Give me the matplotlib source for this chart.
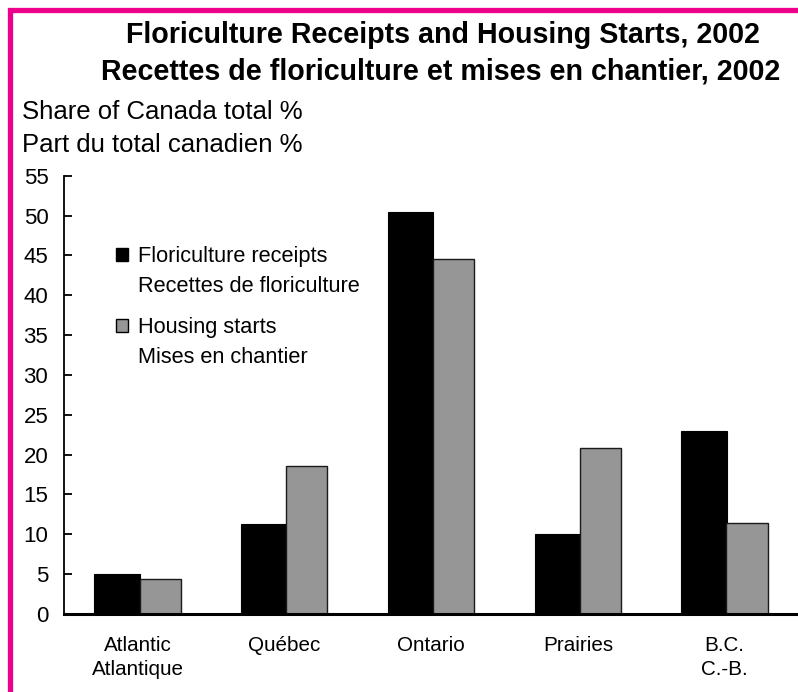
import numpy as np
import matplotlib
matplotlib.use('Agg')
import matplotlib.pyplot as plt
from matplotlib.patches import Patch, Rectangle

categories = ["Atlantic\nAtlantique", "Québec", "Ontario", "Prairies", "B.C.\nC.-B."]
floriculture = [5.0, 11.3, 50.5, 10.0, 23.0]
housing = [4.4, 18.6, 44.5, 20.8, 11.4]
yticks = list(range(0, 60, 5))
title_lines = ["Floriculture Receipts and Housing Starts, 2002",
               "Recettes de floriculture et mises en chantier, 2002"]
ylabel_lines = ["Share of Canada total %", "Part du total canadien %"]
legend_flor = ["Floriculture receipts", "Recettes de floriculture"]
legend_house = ["Housing starts", "Mises en chantier"]

plt.rcParams['font.family'] = ['Liberation Sans', 'DejaVu Sans']

W, H = 798, 692
fig = plt.figure(figsize=(W / 100, H / 100), dpi=100)

def fx(px):
    return px / W

def fy(py):
    return 1 - py / H

ax = fig.add_axes([fx(64.3), fy(614), 1 - fx(64.3), fy(175.7) - fy(614)])
x = np.arange(len(categories))
ax.bar(x - 0.141, floriculture, width=0.308, color='black', edgecolor='black', linewidth=0.8)
ax.bar(x + 0.153, housing, width=0.281, color='#969696', edgecolor='#1a1a1a', linewidth=1.0)
ax.set_xlim(-0.5, 4.5)
ax.set_ylim(0, 55)
ax.set_yticks(yticks)
ax.set_xticks(x)
ax.set_xticklabels(categories, linespacing=1.35, fontsize=14.9)
for s in ['top', 'right']:
    ax.spines[s].set_visible(False)
ax.spines['bottom'].set_linewidth(2.2)
ax.spines['left'].set_linewidth(1.3)
ax.tick_params(axis='y', direction='in', length=5.5, width=1.3, labelsize=16, pad=11.5)
ax.tick_params(axis='x', length=0, pad=15.5)

# Legend (two groups)
leg_kw = dict(frameon=False, fontsize=15.7, borderpad=0, borderaxespad=0,
              handlelength=0.55, handleheight=0.55, handletextpad=0.45,
              labelspacing=0.43, loc='upper left', bbox_transform=fig.transFigure)
blank = Patch(facecolor='none', edgecolor='none')
leg1 = ax.legend([Patch(facecolor='black', edgecolor='black'), blank], legend_flor,
                 bbox_to_anchor=(fx(116), fy(246)), **leg_kw)
ax.add_artist(leg1)
leg2 = ax.legend([Patch(facecolor='#969696', edgecolor='black'), blank], legend_house,
                 bbox_to_anchor=(fx(116), fy(317)), **leg_kw)

# Titles
fig.text(fx(443), fy(43.3), title_lines[0], ha='center', va='baseline',
         fontsize=20.6, fontweight='bold')
fig.text(fx(441), fy(80), title_lines[1], ha='center', va='baseline',
         fontsize=20.6, fontweight='bold')
fig.text(fx(21.7), fy(119.3), ylabel_lines[0], ha='left', va='baseline', fontsize=18.5)
fig.text(fx(21.7), fy(151.7), ylabel_lines[1], ha='left', va='baseline', fontsize=18.5)

# Pink frame
fig.add_artist(Rectangle((fx(10), -0.1), 2, fy(10.3) + 0.1, transform=fig.transFigure,
                         fill=False, edgecolor='#EC008C', linewidth=3.8, clip_on=False))

fig.savefig('out.png', dpi=100)
